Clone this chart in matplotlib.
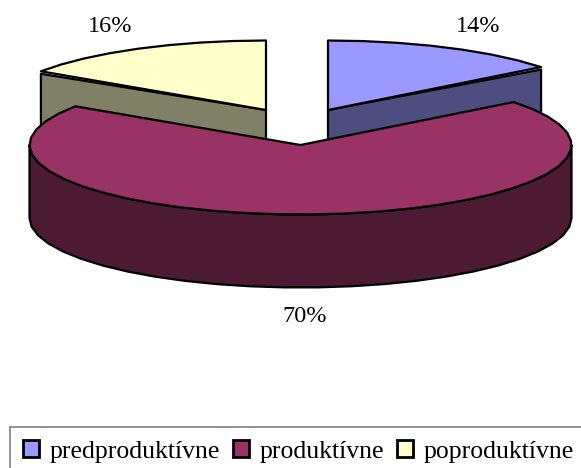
import numpy as np
import matplotlib
matplotlib.use("Agg")
import matplotlib.pyplot as plt
from matplotlib.patches import Polygon, Patch

categories = ["predproduktívne", "produktívne", "poproduktívne"]
values = [14.4, 70.0, 15.6]
pct_labels = ["14%", "70%", "16%"]
top_colors = ["#9999FF", "#993366", "#FFFFCC"]
side_colors = ["#4D4D80", "#4D1A33", "#808066"]

W, H = 581, 468
RX, RY, DEPTH = 271, 69.5, 73
apexes = [(328, 110), (300.5, 145), (266, 110)]
label_pos = [(478, 26), (305, 317), (110, 26)]
STEP = 7.0

plt.rcParams["font.family"] = ["Liberation Serif", "DejaVu Serif"]
fig = plt.figure(figsize=(W / 100, H / 100), dpi=100)
ax = fig.add_axes([0, 0, 1, 1])
ax.set_xlim(0, W)
ax.set_ylim(H, 0)
ax.axis("off")

edges = np.cumsum([0] + values) * 3.6


def rim(i, a0, a1):
    n = max(2, int(abs(a1 - a0) / STEP) + 1)
    t = np.radians(np.linspace(a0, a1, n))
    cx, cy = apexes[i]
    return np.column_stack([cx + RX * np.sin(t), cy - RY * np.cos(t)])


def poly(pts, color, z):
    ax.add_patch(Polygon(pts, closed=True, facecolor=color, edgecolor="black",
                         linewidth=1.6, joinstyle="round", zorder=z))


for z, i in enumerate([2, 0]):
    a = np.array(apexes[i], float)
    end = edges[i + 1] if i == 0 else edges[i]
    c = rim(i, end, end)[0]
    d = np.array([0, DEPTH])
    poly([a, c + [0, 2.5], c + d, a + d], side_colors[i], 1 + z)
    poly(np.vstack([[a], rim(i, edges[i], edges[i + 1])]), top_colors[i], 3 + z)

i = 1
low = rim(i, 90, 270)
poly(np.vstack([low, (low + [0, DEPTH])[::-1]]), side_colors[i], 6)
poly(np.vstack([[apexes[i]], rim(i, edges[i], edges[i + 1])]), top_colors[i], 7)

for (x, y), s in zip(label_pos, pct_labels):
    ax.text(x, y, s, ha="center", va="center", fontsize=17.5, color="black", zorder=9)

handles = [Patch(facecolor=c, edgecolor="black", linewidth=2) for c in top_colors]
leg = ax.legend(handles, categories, loc="upper left",
                bbox_to_anchor=(10 / W, 1 - 427 / H), bbox_transform=fig.transFigure,
                ncols=3, frameon=True, fancybox=False, fontsize=18.5, borderaxespad=0,
                handlelength=0.62, handleheight=0.62, handletextpad=0.42,
                columnspacing=0.5, borderpad=0.52)
leg.get_frame().set_edgecolor("#808080")
leg.get_frame().set_linewidth(1.2)
leg.get_frame().set_alpha(1)

fig.savefig("out.png", dpi=100)
